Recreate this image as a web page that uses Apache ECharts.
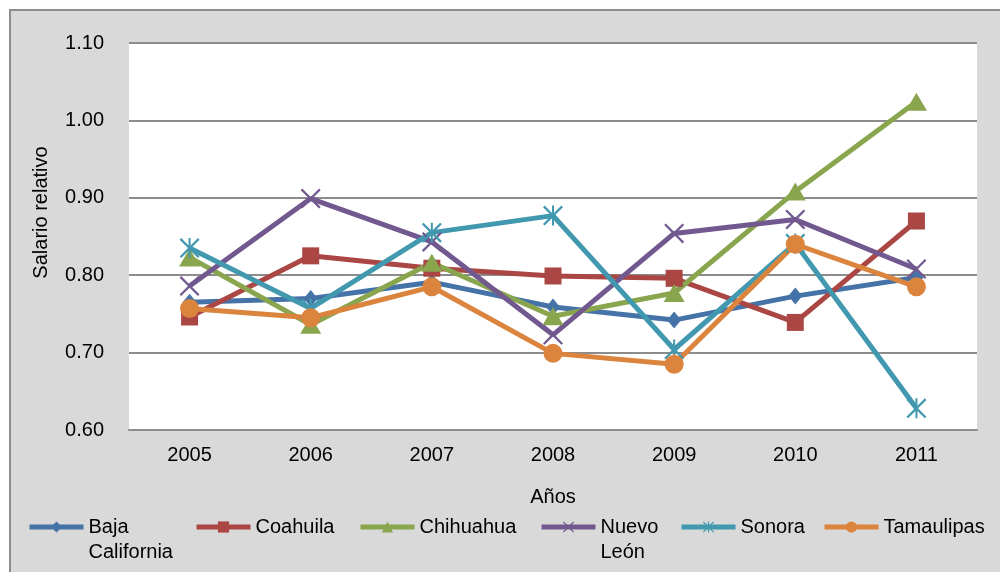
<!DOCTYPE html>
<html>
<head>
<meta charset="utf-8">
<style>
  html, body { margin: 0; padding: 0; background: #ffffff; }
  #chart { width: 1000px; height: 572px; }
</style>
<script src="https://cdn.jsdelivr.net/npm/echarts@6/dist/echarts.min.js"></script>
</head>
<body>
<div id="chart"></div>
<script>
// Relative wage by state, 2005-2011
const years = ['2005', '2006', '2007', '2008', '2009', '2010', '2011'];
const yTicks = { min: 0.6, max: 1.1, step: 0.1 };

const bajaCalifornia = [0.765, 0.770, 0.791, 0.759, 0.742, 0.773, 0.797];
const coahuila       = [0.746, 0.825, 0.809, 0.799, 0.796, 0.739, 0.870];
const chihuahua      = [0.823, 0.736, 0.816, 0.747, 0.777, 0.908, 1.024];
const nuevoLeon      = [0.786, 0.899, 0.843, 0.723, 0.854, 0.872, 0.808];
const sonora         = [0.835, 0.757, 0.855, 0.877, 0.704, 0.841, 0.628];
const tamaulipas     = [0.757, 0.745, 0.785, 0.699, 0.685, 0.840, 0.785];

const seriesNames = ['Baja California', 'Coahuila', 'Chihuahua', 'Nuevo León', 'Sonora', 'Tamaulipas'];
// legend text: the name's first line sits level with the icon, a wrapped second line hangs below
const legendLines = [['Baja', 'California'], ['Coahuila'], ['Chihuahua'], ['Nuevo', 'León'], ['Sonora'], ['Tamaulipas']];

const FONT = '"Liberation Sans", Arial, sans-serif';

// thin-stroke marker shapes drawn as filled outlines
const crossPath = 'path://M0,0.08 L0.08,0 L0.5,0.42 L0.92,0 L1,0.08 L0.58,0.5 L1,0.92 L0.92,1 L0.5,0.58 L0.08,1 L0,0.92 L0.42,0.5 Z';
const starPath = crossPath.replace(' Z', ' Z M0.45,0 L0.55,0 L0.55,1 L0.45,1 Z');

const styles = [
  { color: '#4572a7', symbol: 'diamond', size: [14, 17] },
  { color: '#aa4643', symbol: 'rect', size: 17 },
  { color: '#89a54e', symbol: 'triangle', size: [21, 18] },
  { color: '#71588f', symbol: crossPath, size: 20 },
  { color: '#4198af', symbol: starPath, size: 20 },
  { color: '#db843d', symbol: 'circle', size: 19 }
];
const values = [bajaCalifornia, coahuila, chihuahua, nuevoLeon, sonora, tamaulipas];

const legendLefts = [27, 194, 358, 539, 679, 822];
const LEGEND_LINE = 25;

const chart = echarts.init(document.getElementById('chart'), null, { renderer: 'canvas' });

chart.setOption({
  animation: false,
  backgroundColor: '#ffffff',
  textStyle: { fontFamily: FONT },
  graphic: [{
    type: 'rect',
    z: -10,
    shape: { x: 10, y: 10, width: 1000, height: 600 },
    style: { fill: '#d9d9d9', stroke: '#8c8c8c', lineWidth: 2 }
  }],
  grid: {
    left: 129, right: 23, top: 43, bottom: 142,
    show: true, backgroundColor: '#ffffff', borderWidth: 0
  },
  xAxis: {
    type: 'category',
    data: years,
    boundaryGap: true,
    name: 'Años',
    nameLocation: 'middle',
    nameGap: 57,
    nameTextStyle: { fontSize: 20, color: '#000', fontFamily: FONT },
    axisLine: { lineStyle: { color: '#8c8c8c', width: 2 } },
    axisTick: { show: false },
    axisLabel: { fontSize: 20, color: '#000', margin: 15, fontFamily: FONT },
    splitLine: { show: false }
  },
  yAxis: {
    type: 'value',
    min: yTicks.min,
    max: yTicks.max,
    interval: yTicks.step,
    name: 'Salario relativo',
    nameLocation: 'middle',
    nameGap: 78,
    nameRotate: 90,
    nameTextStyle: { fontSize: 20, color: '#000', fontFamily: FONT, padding: [0, 0, 0, 48] },
    axisLine: { show: false },
    axisTick: { show: false },
    axisLabel: {
      fontSize: 20, color: '#000', margin: 25, fontFamily: FONT,
      formatter: v => v.toFixed(2)
    },
    splitLine: { lineStyle: { color: '#8c8c8c', width: 2 } }
  },
  legend: seriesNames.map((name, i) => ({
    data: [name],
    left: legendLefts[i],
    top: 527 - 1.5 * LEGEND_LINE,
    padding: 0,
    itemWidth: 54,
    itemHeight: 14,
    lineStyle: { width: 5 },
    // three text rows, centred on the icon: blank, first line, second line
    formatter: () => [' ', legendLines[i][0], legendLines[i][1] || ' '].join('\n'),
    textStyle: { fontSize: 20, color: '#000', fontFamily: FONT, lineHeight: LEGEND_LINE }
  })),
  series: seriesNames.map((name, i) => ({
    name: name,
    type: 'line',
    data: values[i],
    symbol: styles[i].symbol,
    symbolSize: styles[i].size,
    showAllSymbol: true,
    color: styles[i].color,
    lineStyle: { width: 5, color: styles[i].color },
    itemStyle: { color: styles[i].color, opacity: 1 },
    emphasis: { disabled: true }
  }))
});
</script>
</body>
</html>
